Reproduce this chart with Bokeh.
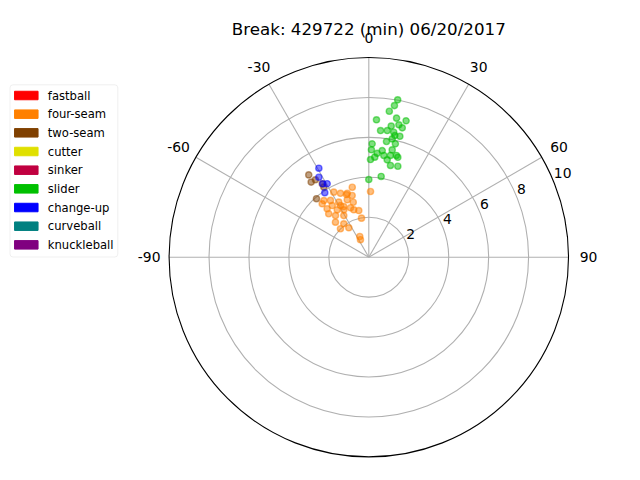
import numpy as np
from bokeh.plotting import figure
from bokeh.models import Range1d, BoxAnnotation
from bokeh.core.properties import value
from bokeh.embed import file_html
from bokeh.resources import INLINE

title_text = "Break: 429722 (min) 06/20/2017"

pitch_types = ["fastball", "four-seam", "two-seam", "cutter", "sinker",
               "slider", "change-up", "curveball", "knuckleball"]
pitch_colors = ["#ff0000", "#ff8000", "#804000", "#e0e000", "#c00040",
                "#00c000", "#0000ff", "#008080", "#800080"]

theta_ticks = [-90, -60, -30, 0, 30, 60, 90]
r_ticks = [2, 4, 6, 8, 10]

# break angle (deg, clockwise from top) and break magnitude per pitch type
four_seam_angle = [-13.3, 1.5, -28.3, -23.9, -18.6, -15.1, -38.4, -34.0, -28.6, -20.6,
                   -15.8, -41.1, -35.3, -28.7, -20.3, -40.7, -33.7, -27.8, -17.6, -12.1,
                   -42.7, -38.6, -31.0, -10.6, -43.6, -36.8, -34.2, -44.9, -23.5, -25.5,
                   -26.3, -19.6]
four_seam_break = [3.60, 3.29, 3.70, 3.50, 3.38, 3.20, 3.62, 3.43, 3.14, 3.07,
                   2.86, 3.55, 3.17, 2.95, 2.64, 3.20, 2.85, 2.68, 2.49, 2.39,
                   2.96, 2.67, 2.43, 1.99, 2.42, 2.09, 1.78, 2.01, 1.13, 0.97,
                   2.83, 3.33]

two_seam_angle = [-36.1, -37.5, -34.6, -32.4, -32.7, -41.8]
two_seam_break = [5.10, 4.74, 4.71, 4.35, 4.17, 3.93]

slider_angle = [10.4, 9.6, 8.0, 3.2, 11.3, 15.3, 9.7, 12.8, 5.3, 8.3,
                14.5, 11.3, 12.1, 14.4, 11.2, 8.7, 13.2, 1.7, 1.4, 7.2,
                12.3, 4.6, 8.4, 12.0, 15.2, 16.2, 3.4, 1.0, 10.7, 13.3,
                17.7, 0.0, 8.7]
slider_break = [8.01, 7.70, 7.38, 6.89, 7.10, 7.08, 6.66, 6.80, 6.37, 6.41,
                6.69, 6.38, 6.23, 6.25, 6.04, 5.86, 5.83, 5.68, 5.38, 5.38,
                5.50, 5.22, 5.15, 5.21, 5.28, 5.21, 5.02, 4.89, 4.96, 4.72,
                4.78, 3.89, 4.09]

change_up_angle = [-29.3, -32.0, -29.5, -34.3, -32.1]
change_up_break = [5.11, 4.72, 4.23, 3.91, 4.34]

series = [
    ("four-seam", four_seam_angle, four_seam_break),
    ("two-seam", two_seam_angle, two_seam_break),
    ("slider", slider_angle, slider_break),
    ("change-up", change_up_angle, change_up_break),
]

# ---- layout (page pixels) ----
W, H = 624, 464
OFF = 0
CX, CY = 368.3, 256.7   # polar centre on the page
S = 19.97               # pixels per unit of break


def px(X):
    return (X - CX) / S


def py(Y):
    return (CY - Y) / S


p = figure(width=W, height=H,
           x_range=Range1d(px(OFF), px(OFF + W)),
           y_range=Range1d(py(OFF + H), py(OFF)),
           x_axis_type=None, y_axis_type=None,
           toolbar_location=None, output_backend="svg", min_border=0)
p.outline_line_color = None
p.grid.visible = False
p.background_fill_color = "white"
p.border_fill_color = "white"

font = value("DejaVu Sans")
grid_col = "#b0b0b0"

# radial grid circles
for r in r_ticks[:-1]:
    p.circle(x=0, y=0, radius=r, fill_color=None, line_color=grid_col, line_width=1.1)

# angular grid lines
th = np.radians(theta_ticks)
p.segment(x0=0, y0=0, x1=10 * np.sin(th), y1=10 * np.cos(th),
          line_color=grid_col, line_width=1.1)

# outer boundary
p.circle(x=0, y=0, radius=r_ticks[-1], fill_color=None, line_color="black", line_width=1.1)

# data
color_of = dict(zip(pitch_types, pitch_colors))
for name, ang, brk in series:
    a = np.radians(ang)
    b = np.array(brk)
    p.scatter(x=b * np.sin(a), y=b * np.cos(a), size=6.2, marker="circle",
              fill_color=color_of[name], line_color=color_of[name],
              fill_alpha=0.5, line_alpha=0.5, line_width=1.4)

# angle labels
p.text(x=11.0 * np.sin(th), y=11.0 * np.cos(th), text=[str(t) for t in theta_ticks],
       text_font=font, text_font_size="13.9px", text_color="black",
       text_align="center", text_baseline="middle")

# radial labels along 67.5 deg
ra = np.radians(67.5)
rt = np.array(r_ticks, dtype=float)
p.text(x=rt * np.sin(ra), y=rt * np.cos(ra), text=[str(r) for r in r_ticks],
       text_font=font, text_font_size="13.9px", text_color="black",
       text_align="left", text_baseline="middle", x_offset=0.5, y_offset=-7.5)

# title
p.text(x=[0], y=[py(28.7)], text=[title_text], text_font=font,
       text_font_size="16.7px", text_color="black",
       text_align="center", text_baseline="alphabetic")

# legend
box = BoxAnnotation(left=px(9.5), right=px(117.3), top=py(84.3), bottom=py(256.5),
                    fill_color="white", fill_alpha=0.8, line_color="#cccccc",
                    line_width=1, border_radius=3, level="underlay")
p.add_layout(box)
row_y = [95.0 + 18.67 * i for i in range(len(pitch_types))]
p.rect(x=[px(25.8)] * len(pitch_types), y=[py(v) for v in row_y],
       width=23.5 / S, height=8.5 / S, fill_color=pitch_colors,
       line_color=pitch_colors, line_width=1)
p.text(x=[px(47.3)] * len(pitch_types), y=[py(v) for v in row_y], text=pitch_types,
       text_font=font, text_font_size="11.6px", text_color="black",
       text_align="left", text_baseline="middle")

open("out.html", "w").write(file_html(p, INLINE))
